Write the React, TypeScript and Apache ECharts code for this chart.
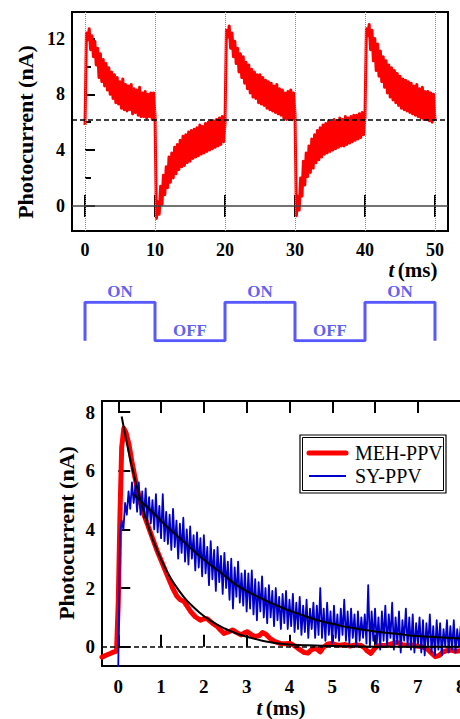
import React, { useEffect, useRef } from "react";
import * as echarts from "echarts";

const FONT = "'Liberation Serif', 'Times New Roman', serif";

// ---------- Top chart: photocurrent under chopped light ----------
const TOP_STEP_MS = 0.2;
const segmentStarts = [0, 10, 20, 30, 40];
const segOn1 = [
  5.8, 12.4, 11.9, 12.7, 11.2, 12.2, 10.7, 11.8, 10.1, 11.3,
  9.2, 10.9, 8.9, 10.5, 8.6, 10.2, 8.3, 9.9, 8.0, 9.6,
  7.7, 9.4, 7.4, 9.2, 7.3, 8.9, 7.0, 9.1, 6.9, 8.7,
  6.8, 8.6, 6.9, 8.7, 6.6, 8.4, 6.7, 8.3, 6.5, 8.5,
  6.4, 8.1, 6.4, 8.2, 6.3, 8.0, 6.4, 8.1, 6.2, 8.1,
];
const segOff1 = [
  6.5, -0.9, 0.3, -0.6, 1.4, 0.1, 2.2, 0.8, 2.8, 1.3,
  3.5, 1.7, 3.8, 2.0, 4.2, 2.3, 4.4, 2.6, 4.7, 2.8,
  5.0, 2.9, 5.1, 3.1, 5.3, 3.2, 5.4, 3.4, 5.5, 3.5,
  5.6, 3.6, 5.8, 3.7, 5.7, 3.8, 5.9, 3.9, 6.0, 4.0,
  6.1, 4.1, 6.1, 4.2, 6.2, 4.3, 6.3, 4.4, 6.4, 4.6,
];
const segOn2 = [
  5.9, 12.6, 12.1, 12.9, 11.3, 12.4, 10.7, 11.8, 10.2, 11.3,
  9.6, 10.9, 9.2, 10.7, 8.8, 10.3, 8.4, 10.1, 8.1, 9.8,
  7.8, 9.6, 7.7, 9.4, 7.4, 9.4, 7.3, 9.2, 7.2, 9.0,
  7.0, 8.9, 6.9, 8.8, 6.8, 8.6, 6.7, 8.7, 6.6, 8.4,
  6.5, 8.3, 6.3, 8.1, 6.2, 8.2, 6.2, 8.3, 6.2, 8.1,
];
const segOff2 = [
  6.6, -0.7, 0.7, -0.3, 2.0, 0.7, 3.2, 1.5, 3.8, 2.1,
  4.3, 2.4, 4.8, 2.7, 5.1, 3.1, 5.4, 3.3, 5.6, 3.5,
  5.8, 3.7, 5.9, 3.8, 6.1, 3.9, 6.0, 4.0, 6.2, 4.1,
  6.1, 4.2, 6.3, 4.3, 6.2, 4.3, 6.4, 4.4, 6.3, 4.5,
  6.4, 4.6, 6.5, 4.7, 6.5, 4.8, 6.6, 4.9, 6.7, 5.1,
];
const segOn3 = [
  6.4, 12.7, 12.2, 13.0, 11.2, 12.6, 10.4, 12.0, 9.7, 11.6,
  9.3, 11.1, 8.9, 10.7, 8.5, 10.4, 8.1, 10.1, 7.8, 9.9,
  7.6, 9.7, 7.4, 9.5, 7.2, 9.3, 7.0, 9.1, 6.9, 9.0,
  6.8, 8.9, 6.7, 8.8, 6.6, 8.6, 6.5, 8.7, 6.4, 8.4,
  6.3, 8.5, 6.2, 8.2, 6.2, 8.2, 6.1, 8.1, 6.0, 8.0, 6.1,
];
const topSegments = [segOn1, segOff1, segOn2, segOff2, segOn3];
const cycleBoundaries = [0, 10, 20, 30, 40, 50];
const topXTicks = [0, 10, 20, 30, 40, 50];
const topYTicks = [0, 4, 8, 12];
const topYMinorTicks = [2, 6, 10];
const steadyLevel = 6.2;
const zeroLevel = 0;

// ---------- Light ON/OFF square wave ----------
const waveTimes = [0, 0, 10, 10, 20, 20, 30, 30, 40, 40, 50, 50];
const waveLevels = [0, 1, 1, 0, 0, 1, 1, 0, 0, 1, 1, 0];
const waveLabelTimes = [5, 15, 25, 35, 45];
const waveLabelLevels = [1, 0, 1, 0, 1];
const waveLabelTexts = ["ON", "OFF", "ON", "OFF", "ON"];

// ---------- Bottom chart: transient photocurrent ----------
const mehTimes = [-0.38, -0.3, -0.2, -0.1, -0.04, 0.0, 0.04, 0.08, 0.13, 0.18, 0.25, 0.32, 0.4, 0.5, 0.6, 0.7, 0.8, 0.9, 1.0, 1.14, 1.27, 1.37, 1.45, 1.53, 1.6, 1.69, 1.8, 1.92, 2.0, 2.08, 2.2, 2.32, 2.4, 2.47, 2.57, 2.67, 2.77, 2.87, 2.95, 3.02, 3.12, 3.2, 3.3, 3.37, 3.45, 3.55, 3.65, 3.78, 3.9, 4.02, 4.13, 4.25, 4.35, 4.43, 4.5, 4.58, 4.66, 4.72, 4.78, 4.88, 4.98, 5.1, 5.19, 5.3, 5.42, 5.55, 5.66, 5.75, 5.82, 5.9, 5.98, 6.05, 6.17, 6.28, 6.4, 6.52, 6.63, 6.75, 6.87, 6.98, 7.1, 7.22, 7.32, 7.41, 7.5, 7.57, 7.66, 7.77, 7.88, 8.0];
const mehValues = [-0.36, -0.3, -0.24, -0.18, -0.15, 1.5, 4.5, 6.8, 7.45, 7.3, 6.9, 6.3, 5.7, 5.0, 4.5, 4.1, 3.7, 3.3, 2.95, 2.45, 2.0, 1.72, 1.6, 1.55, 1.4, 1.2, 1.02, 0.9, 0.95, 0.95, 0.8, 0.68, 0.55, 0.45, 0.5, 0.57, 0.48, 0.4, 0.47, 0.51, 0.4, 0.34, 0.38, 0.48, 0.42, 0.28, 0.18, 0.11, 0.1, 0.11, 0.02, -0.11, -0.2, -0.22, -0.12, -0.06, -0.1, -0.18, -0.04, 0.08, 0.11, 0.06, 0.05, 0.07, 0.02, 0.06, 0.05, -0.03, -0.15, -0.23, -0.08, 0.02, 0.04, 0.05, 0.1, 0.14, 0.07, 0.04, 0.06, 0.02, 0.0, -0.08, -0.22, -0.34, -0.3, -0.2, -0.14, -0.12, -0.16, -0.14];

const SY_STEP_MS = 0.04;
const syValues = [
  -0.7, 3.8, 4.3, 4.0, 4.9, 4.5, 5.3, 4.7, 5.6, 4.9,
  5.5, 4.6, 5.6, 4.5, 5.3, 4.4, 5.4, 4.3, 5.1, 4.2,
  5.0, 4.0, 5.2, 3.9, 4.8, 3.7, 5.2, 3.6, 4.6, 3.5,
  4.5, 3.3, 4.7, 3.4, 4.3, 3.0, 4.2, 3.2, 4.4, 2.9,
  4.0, 2.8, 4.1, 3.0, 3.8, 2.6, 3.9, 2.7, 3.7, 2.4,
  3.8, 2.5, 3.4, 2.1, 3.6, 2.3, 3.3, 1.9, 3.4, 2.2,
  3.1, 1.8, 3.2, 2.0, 2.9, 1.6, 3.0, 1.3, 2.7, 1.7,
  2.9, 1.5, 2.5, 1.4, 2.6, 1.2, 2.5, 1.3, 2.6, 1.1,
  2.3, 0.9, 2.2, 1.2, 2.4, 1.0, 2.0, 0.8, 2.1, 1.0,
  1.9, 0.7, 2.0, 0.9, 1.7, 0.6, 1.8, 0.8, 1.9, 0.6,
  1.6, 0.7, 1.8, 0.5, 1.5, 0.6, 1.7, 0.4, 1.4, 0.5,
  1.6, 0.3, 1.3, 0.6, 1.5, 0.3, 1.4, 0.4, 2.0, 0.3,
  1.3, 0.2, 1.5, 0.4, 1.2, 0.1, 1.4, 0.3, 1.1, 0.2,
  1.3, 0.4, 1.6, 0.2, 1.2, 0.1, 1.3, 0.3, 1.1, 0.0,
  1.2, 0.2, 1.0, 0.3, 1.1, 0.1, 2.1, 0.0, 1.2, 0.2,
  1.3, 0.1, 1.0, -0.1, 1.2, 0.2, 1.4, 0.0, 1.1, 0.3,
  1.5, -0.1, 1.0, 0.1, 1.2, -0.2, 0.9, 0.2, 1.3, 0.0,
  1.0, -0.1, 1.1, -0.2, 0.8, 0.1, 1.0, -0.2, 0.9, -0.3,
  0.8, 0.0, 1.1, -0.2, 0.7, -0.3, 0.9, -0.1, 0.8, -0.3,
  0.6, 0.0, 0.9, -0.2, 0.7, -0.1, 0.9, -0.2, 0.6, 0.0,
  0.7,
];
const mehFitTimes = [0.08, 0.2, 0.35, 0.5, 0.67, 0.8, 0.9, 1.0, 1.14, 1.3, 1.53, 1.7, 1.92, 2.1, 2.32, 2.5, 2.71, 2.9, 3.1, 3.34, 3.6, 3.86, 4.2, 4.6, 5.03, 5.5, 6.0, 7.0, 8.0];
const mehFitValues = [7.85, 6.95, 5.95, 5.1, 4.25, 3.68, 3.32, 2.98, 2.56, 2.16, 1.7, 1.43, 1.14, 0.94, 0.74, 0.61, 0.48, 0.38, 0.3, 0.21, 0.14, 0.09, 0.06, 0.04, 0.02, 0.01, 0.0, 0.0, 0.0];
const syFitTimes = [0.35, 0.55, 0.75, 0.95, 1.14, 1.35, 1.53, 1.72, 1.92, 2.12, 2.32, 2.52, 2.71, 2.9, 3.1, 3.48, 3.86, 4.25, 4.64, 5.03, 5.42, 5.81, 6.2, 6.6, 6.98, 7.5, 8.0];
const syFitValues = [5.2, 4.93, 4.66, 4.37, 4.09, 3.82, 3.58, 3.32, 3.07, 2.83, 2.61, 2.38, 2.16, 1.98, 1.82, 1.55, 1.31, 1.1, 0.91, 0.77, 0.65, 0.56, 0.48, 0.42, 0.36, 0.32, 0.28];
const bottomXTicks = [0, 1, 2, 3, 4, 5, 6, 7, 8];
const bottomYTicks = [0, 2, 4, 6, 8];
const legendNames = ["MEH-PPV", "SY-PPV"];

const RED = "#ff0000";
const BLUE = "#0000c8";
const WAVE_BLUE = "#5858ff";

const tickLabel = (size: number) => ({
  fontFamily: FONT,
  fontWeight: "bold" as const,
  fontSize: size,
  color: "#000",
});

export default function App() {
  const ref = useRef<HTMLDivElement>(null);

  useEffect(() => {
    if (!ref.current) return;
    const chart = echarts.init(ref.current, null, { renderer: "svg" });

    const topRed: number[][] = [];
    topSegments.forEach((seg, k) => {
      seg.forEach((v, i) => {
        topRed.push([+(segmentStarts[k] + i * TOP_STEP_MS).toFixed(3), v]);
      });
    });
    const wave = waveTimes.map((t, i) => [t, waveLevels[i]]);
    const waveLabels = waveLabelTimes.map((t, i) => [t, waveLabelLevels[i]]);
    const meh = mehTimes.map((t, i) => [t, mehValues[i]]);
    const sy = syValues.map((v, i) => [+(i * SY_STEP_MS).toFixed(3), v]);
    const mehFit = mehFitTimes.map((t, i) => [t, mehFitValues[i]]);
    const syFit = syFitTimes.map((t, i) => [t, syFitValues[i]]);

    const tick = (values: number[], len: number) => ({
      show: true,
      inside: true,
      length: len,
      customValues: values,
      lineStyle: { color: "#000", width: 2 },
    });

    const tTitle = (x: number, y: number) => ({
      type: "text", x, y,
      style: {
        text: "{i|t} {b|(ms)}", align: "center", verticalAlign: "middle", fill: "#000",
        rich: {
          i: { fontFamily: FONT, fontWeight: "bold", fontStyle: "italic", fontSize: 21, fill: "#000" },
          b: { fontFamily: FONT, fontWeight: "bold", fontSize: 21, fill: "#000" },
        },
      },
    });

    const option: any = {
      animation: false,
      textStyle: { fontFamily: FONT },
      grid: [
        { left: 72, top: 12, width: 376, height: 219, show: true, borderColor: "#000", borderWidth: 2, backgroundColor: "transparent" },
        { left: 72, top: 302.3, width: 376, height: 38.4, show: false },
        { left: 102, top: 401, width: 359.5, height: 265, show: true, borderColor: "#000", borderWidth: 2, backgroundColor: "transparent" },
      ],
      xAxis: [
        {
          gridIndex: 0, type: "value", min: -1.86, max: 51.86, position: "bottom",
          axisLine: { show: false }, splitLine: { show: false },
          axisTick: tick(topXTicks, 11),
          axisLabel: { ...tickLabel(18), margin: 10, customValues: topXTicks },
        },
        {
          gridIndex: 0, type: "value", min: -1.86, max: 51.86, position: "top",
          axisLine: { show: false }, splitLine: { show: false },
          axisTick: tick(topXTicks, 11), axisLabel: { show: false },
        },
        { gridIndex: 1, type: "value", min: -1.86, max: 51.86, show: false },
        {
          gridIndex: 2, type: "value", min: -0.38, max: 8.02, position: "bottom",
          axisLine: { show: false }, splitLine: { show: false },
          axisTick: tick(bottomXTicks, 12),
          axisLabel: { ...tickLabel(19), margin: 11, customValues: bottomXTicks },
        },
        {
          gridIndex: 2, type: "value", min: -0.38, max: 8.02, position: "top",
          axisLine: { show: false }, splitLine: { show: false },
          axisTick: tick(bottomXTicks, 12), axisLabel: { show: false },
        },
      ],
      yAxis: [
        {
          gridIndex: 0, type: "value", min: -1.8, max: 13.9, position: "left",
          axisLine: { show: false }, splitLine: { show: false },
          axisTick: tick(topYTicks, 10),
          axisLabel: { ...tickLabel(18), margin: 7, customValues: topYTicks },
        },
        {
          gridIndex: 0, type: "value", min: -1.8, max: 13.9, position: "left",
          axisLine: { show: false }, splitLine: { show: false },
          axisTick: tick(topYMinorTicks, 6), axisLabel: { show: false },
        },
        { gridIndex: 1, type: "value", min: 0, max: 1, show: false },
        {
          gridIndex: 2, type: "value", min: -0.66, max: 8.38, position: "left",
          axisLine: { show: false }, splitLine: { show: false },
          axisTick: tick(bottomYTicks, 12),
          axisLabel: { ...tickLabel(19), margin: 7, customValues: bottomYTicks },
        },
      ],
      series: [
        {
          type: "line", xAxisIndex: 0, yAxisIndex: 0, data: [], z: 1, silent: true,
          markLine: {
            silent: true, symbol: ["none", "none"], label: { show: false },
            data: [
              ...cycleBoundaries.map((v) => ({ xAxis: v, lineStyle: { color: "#7a7aff", type: "dotted", width: 1 } })),
              { yAxis: zeroLevel, lineStyle: { color: "#444", type: "solid", width: 1.5 } },
            ],
          },
        },
        {
          type: "line", xAxisIndex: 0, yAxisIndex: 0, data: topRed, z: 3, symbol: "none",
          lineStyle: { color: RED, width: 3, join: "round" }, silent: true,
        },
        {
          type: "line", xAxisIndex: 0, yAxisIndex: 0, data: [], z: 4, silent: true,
          markLine: {
            silent: true, symbol: ["none", "none"], label: { show: false },
            data: [{ yAxis: steadyLevel, lineStyle: { color: "#000", type: [5, 3], width: 1.5 } }],
          },
        },
        {
          type: "line", xAxisIndex: 2, yAxisIndex: 2, data: wave, symbol: "none", silent: true,
          lineStyle: { color: WAVE_BLUE, width: 3 },
        },
        {
          type: "scatter", xAxisIndex: 2, yAxisIndex: 2, data: waveLabels, symbolSize: 0, silent: true,
          label: {
            show: true, position: "top", distance: 2,
            formatter: (p: any) => waveLabelTexts[p.dataIndex],
            fontFamily: FONT, fontWeight: "bold", fontSize: 17, color: "#3535f0",
          },
        },
        {
          type: "line", xAxisIndex: 3, yAxisIndex: 3, data: [], z: 1, silent: true,
          markLine: {
            silent: true, symbol: ["none", "none"], label: { show: false },
            data: [{ yAxis: zeroLevel, lineStyle: { color: "#000", type: [5, 3], width: 1.5 } }],
          },
        },
        {
          name: legendNames[0], type: "line", xAxisIndex: 3, yAxisIndex: 3, data: meh, z: 2, symbol: "none", silent: true,
          lineStyle: { color: RED, width: 5, cap: "round", join: "round" },
        },
        {
          name: legendNames[1], type: "line", xAxisIndex: 3, yAxisIndex: 3, data: sy, z: 3, symbol: "none", silent: true,
          lineStyle: { color: BLUE, width: 1.8, join: "round" },
        },
        {
          type: "line", xAxisIndex: 3, yAxisIndex: 3, data: mehFit, z: 4, symbol: "none", smooth: true, silent: true,
          lineStyle: { color: "#000", width: 2 },
        },
        {
          type: "line", xAxisIndex: 3, yAxisIndex: 3, data: syFit, z: 4, symbol: "none", smooth: true, silent: true,
          lineStyle: { color: "#000", width: 2 },
        },
      ],
      graphic: [
        {
          type: "text", x: 25, y: 132, rotation: Math.PI / 2,
          style: { text: "Photocurrent (nA)", fontFamily: FONT, fontWeight: "bold", fontSize: 22, fill: "#000", align: "center", verticalAlign: "middle" },
        },
        tTitle(413, 270),
        {
          type: "text", x: 66, y: 533, rotation: Math.PI / 2,
          style: { text: "Photocurrent (nA)", fontFamily: FONT, fontWeight: "bold", fontSize: 22, fill: "#000", align: "center", verticalAlign: "middle" },
        },
        tTitle(281, 707.5),
        { type: "rect", z: 10, shape: { x: 300, y: 435, width: 146, height: 58 }, style: { fill: "#fff", stroke: "#000", lineWidth: 1.2 } },
        { type: "rect", z: 11, shape: { x: 302.5, y: 437.5, width: 141, height: 53 }, style: { fill: "none", stroke: "#000", lineWidth: 1 } },
        { type: "line", z: 12, shape: { x1: 309, y1: 453, x2: 346, y2: 453 }, style: { stroke: RED, lineWidth: 5, lineCap: "round" } },
        { type: "line", z: 12, shape: { x1: 309, y1: 476, x2: 346, y2: 476 }, style: { stroke: BLUE, lineWidth: 2 } },
        { type: "text", z: 12, x: 355, y: 453, style: { text: legendNames[0], fontFamily: FONT, fontSize: 20, fill: "#000", align: "left", verticalAlign: "middle" } },
        { type: "text", z: 12, x: 355, y: 476, style: { text: legendNames[1], fontFamily: FONT, fontSize: 20, fill: "#000", align: "left", verticalAlign: "middle" } },
      ],
    };

    chart.setOption(option);
    return () => chart.dispose();
  }, []);

  return (
    <div style={{ position: "fixed", left: 0, top: 0, width: 460, height: 719, overflow: "hidden", background: "#fff" }}>
      <div ref={ref} style={{ width: 470, height: 719 }} />
    </div>
  );
}
